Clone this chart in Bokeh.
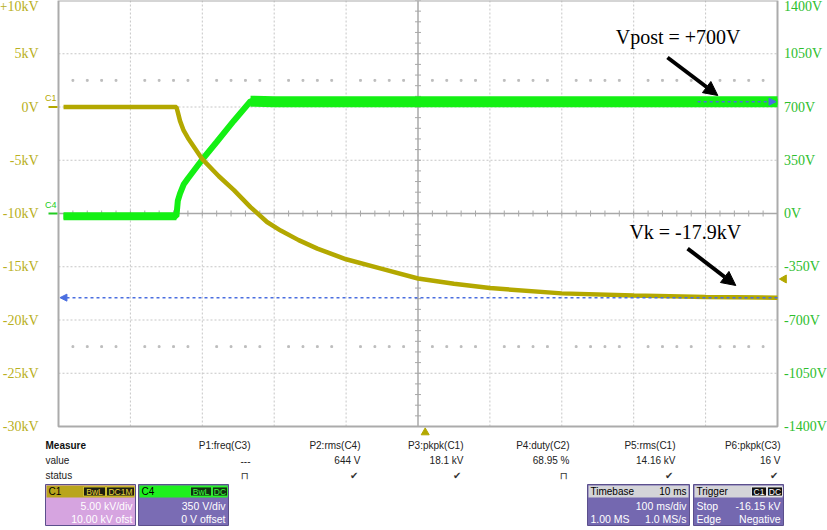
import numpy as np
from bokeh.plotting import figure
from bokeh.layouts import column
from bokeh.models import Range1d, Arrow, NormalHead
from bokeh.embed import file_html
from bokeh.resources import INLINE
from bokeh.core.properties import value

# ---------------- data ----------------
# C1: cathode voltage (kV) versus time (ms from the left edge of the screen)
c1_t_ms = [7, 164, 166, 169, 174, 180, 200, 223, 244, 267, 290, 309, 334, 360, 400,
           450, 500, 550, 600, 700, 800, 900, 1000]
c1_kv = [0, 0, -0.5, -1.3, -2.2, -2.9, -4.9, -6.5, -7.8, -9.4, -10.8, -11.6, -12.5, -13.3, -14.3,
         -15.2, -16.1, -16.6, -17.0, -17.5, -17.7, -17.85, -17.9]
# C4: post voltage (V)
c4_t_ms = [7, 164, 166, 169, 174, 180, 200, 220, 244, 267, 300, 400, 500, 600, 700, 800, 900, 1000]
c4_v = [-18, -18, 85, 131, 190, 230, 355, 470, 610, 738, 735, 735, 735, 735, 735, 735, 735, 735]
C4_FLAT_START = 9  # index where the post voltage has settled

left_ticks_kv = [-30, -25, -20, -15, -10, -5, 0, 5, 10]
left_tick_labels = ["-30kV", "-25kV", "-20kV", "-15kV", "-10kV", "-5kV", "0V", "5kV", "+10kV"]
right_ticks_v = [-1400, -1050, -700, -350, 0, 350, 700, 1050, 1400]
right_tick_labels = ["-1400V", "-1050V", "-700V", "-350V", "0V", "350V", "700V", "1050V", "1400V"]

c1_kv_per_div = 5.0
c1_offset_kv = 10.0
c4_v_per_div = 350.0
ms_per_div = 100.0
trigger_delay_ms = 10.0
trigger_level_kv = -16.15
c1_cursor_kv = -17.9
c4_cursor_v = 735.0

meas_names = ["P1:freq(C3)", "P2:rms(C4)", "P3:pkpk(C1)", "P4:duty(C2)", "P5:rms(C1)", "P6:pkpk(C3)"]
meas_values = ["---", "644 V", "18.1 kV", "68.95 %", "14.16 kV", "16 V"]
meas_status = ["\u2293", "\u2714", "\u2714", "\u2293", "\u2714", "\u2714"]

# ---------------- colours ----------------
OLIVE = "#b3a800"
OLIVE_TXT = "#b9b022"
GREEN = "#14f014"
GREEN_TXT = "#2dbe2d"
BLUE = "#4a6ee0"
GRID = "#c6c6c6"
AXIS = "#a8a8a8"

# ---------------- geometry of the scope screen (pixels) ----------------
W = 827
SCR_L, SCR_R = 58, 777          # screen left / right edge
SCR_T, SCR_B = 0, 426           # screen top / bottom edge
H1 = 436
H2 = 530 - H1
MS_PER_PX = 10 * ms_per_div / (SCR_R - SCR_L)
KV_PER_PX = 8 * c1_kv_per_div / (SCR_B - SCR_T)
center_kv = -c1_offset_kv
top_kv = center_kv + 4 * c1_kv_per_div
bottom_kv = center_kv - 4 * c1_kv_per_div
V_PER_KV = c4_v_per_div / c1_kv_per_div
t_end = 10 * ms_per_div
t_mid = t_end / 2

x0 = -SCR_L * MS_PER_PX
x1 = t_end + (W - SCR_R) * MS_PER_PX
y_top = top_kv + SCR_T * KV_PER_PX
y_bot = bottom_kv - (H1 - SCR_B) * KV_PER_PX

p = figure(width=W, height=H1, x_range=Range1d(x0, x1), y_range=Range1d(y_bot, y_top),
           x_axis_type=None, y_axis_type=None, toolbar_location=None, output_backend="svg",
           min_border=0)
p.extra_y_ranges = {"v": Range1d((y_bot - center_kv) * V_PER_KV, (y_top - center_kv) * V_PER_KV)}
p.outline_line_color = None
p.grid.visible = False
p.background_fill_color = "white"
p.border_fill_color = "white"

# graticule
x_grid = [t for t in np.arange(ms_per_div, t_end, ms_per_div) if t != t_mid]
y_grid = [k for k in left_ticks_kv if bottom_kv < k < top_kv and k != center_kv]
p.segment(x0=x_grid, x1=x_grid, y0=bottom_kv, y1=top_kv, line_color=GRID, line_width=1, line_dash="2 2")
p.segment(x0=0, x1=t_end, y0=y_grid, y1=y_grid, line_color=GRID, line_width=1, line_dash="2 2")
p.segment(x0=[t_mid, 0], x1=[t_mid, t_end], y0=[bottom_kv, center_kv], y1=[top_kv, center_kv],
          line_color=AXIS, line_width=1.5)
tx = np.arange(0, t_end + 1, ms_per_div / 5)
p.segment(x0=tx, x1=tx, y0=center_kv - 3 * KV_PER_PX, y1=center_kv + 3 * KV_PER_PX,
          line_color=AXIS, line_width=1)
ty = np.arange(bottom_kv, top_kv + 0.01, c1_kv_per_div / 5)
p.segment(x0=t_mid - 3 * MS_PER_PX, x1=t_mid + 3 * MS_PER_PX, y0=ty, y1=ty, line_color=AXIS, line_width=1)
dots_t = [t for t in tx if t % ms_per_div != 0]
for row in (center_kv + 2.5 * c1_kv_per_div, center_kv - 2.5 * c1_kv_per_div):
    p.scatter(x=dots_t, y=[row] * len(dots_t), size=1.8, marker="square", color="#bdbdbd")
p.quad(left=[0], right=[t_end], top=[top_kv], bottom=[bottom_kv], fill_color=None,
       line_color="#ababab", line_width=2)

# tick labels of both channels
lab_font = value("Liberation Serif")
lab_size = value("14px")
p.text(x=[-20 * MS_PER_PX] * (len(left_ticks_kv) - 1), y=left_ticks_kv[:-1], text=left_tick_labels[:-1],
       text_align="right", text_baseline="middle", text_font=lab_font, text_font_size=lab_size,
       text_color=OLIVE_TXT)
p.text(x=[t_end + 6.5 * MS_PER_PX] * (len(right_ticks_v) - 1), y=right_ticks_v[:-1],
       text=right_tick_labels[:-1], y_range_name="v", text_align="left", text_baseline="middle",
       text_font=lab_font, text_font_size=lab_size, text_color=GREEN_TXT)
# the top labels sit just inside the top edge of the picture
p.text(x=[-20 * MS_PER_PX], y=[top_kv - 6 * KV_PER_PX], text=[left_tick_labels[-1]], text_align="right",
       text_baseline="middle", text_font=lab_font, text_font_size=lab_size, text_color=OLIVE_TXT)
p.text(x=[t_end + 6.5 * MS_PER_PX], y=[top_kv - 6 * KV_PER_PX], text=[right_tick_labels[-1]],
       text_align="left", text_baseline="middle", text_font=lab_font, text_font_size=lab_size,
       text_color=GREEN_TXT)

# traces
p.line(c4_t_ms, c4_v, y_range_name="v", line_color=GREEN, line_width=6)
p.line(c4_t_ms[:2], c4_v[:2], y_range_name="v", line_color=GREEN, line_width=8)
p.line(c4_t_ms[C4_FLAT_START:], c4_v[C4_FLAT_START:], y_range_name="v", line_color=GREEN, line_width=11)
p.line(c1_t_ms, c1_kv, line_color=OLIVE, line_width=4.5)

# cursors
p.add_layout(Arrow(x_start=t_end, y_start=c1_cursor_kv, x_end=2, y_end=c1_cursor_kv, line_color=BLUE,
                   line_width=1.5, line_dash="3 3",
                   end=NormalHead(size=7, fill_color=BLUE, line_color=BLUE)))
p.add_layout(Arrow(x_start=889, y_start=c4_cursor_v, x_end=t_end - 2, y_end=c4_cursor_v, y_range_name="v",
                   line_color=BLUE, line_width=1.5, line_dash="3 3",
                   end=NormalHead(size=7, fill_color=BLUE, line_color=BLUE)))

# channel markers left of the screen
mark_kv = [0.0, center_kv]
mark_names = ["C1", "C4"]
mark_cols = [OLIVE, "#22cc22"]
p.segment(x0=-10 * MS_PER_PX, x1=-1 * MS_PER_PX, y0=mark_kv, y1=mark_kv, line_color=mark_cols, line_width=2)
p.text(x=-2 * MS_PER_PX, y=[k + 4 * KV_PER_PX for k in mark_kv], text=mark_names, text_align="right",
       text_baseline="bottom", text_font=value("Liberation Sans"), text_font_size=value("9px"),
       text_color=mark_cols)

# trigger markers
p.scatter(x=[t_end + 6.5 * MS_PER_PX], y=[trigger_level_kv], marker="triangle", size=8, angle=np.pi / 2,
          color=OLIVE)
p.scatter(x=[t_mid + trigger_delay_ms], y=[bottom_kv - 6 * KV_PER_PX], marker="triangle", size=8, color=OLIVE)

# annotations
ann_font = value("Liberation Serif")
p.text(x=[775, 794], y=[6.53, -11.78], text=["Vpost = +700V", "Vk = -17.9kV"], text_align="left",
       text_baseline="middle", text_font=ann_font, text_font_size=value("20px"), text_color="black")
p.add_layout(Arrow(x_start=847, y_start=4.65, x_end=917, y_end=1.08, line_color="black", line_width=4,
                   end=NormalHead(size=14, fill_color="black", line_color="black")))
p.add_layout(Arrow(x_start=875, y_start=-13.29, x_end=942, y_end=-16.76, line_color="black", line_width=4,
                   end=NormalHead(size=14, fill_color="black", line_color="black")))

# ---------------- measurement table and info boxes ----------------
q = figure(width=W, height=H2, x_range=Range1d(0, W), y_range=Range1d(H2, 0),
           x_axis_type=None, y_axis_type=None, toolbar_location=None, output_backend="svg",
           min_border=0)
q.outline_line_color = None
q.grid.visible = False
q.background_fill_color = "white"
q.border_fill_color = "white"

FONT = value("Liberation Sans")
FS = value("10px")
q.text(x=[45], y=[9], text=["Measure"], text_font=FONT, text_font_size=FS, text_font_style="bold",
       text_baseline="middle", text_color="#111111")
q.text(x=[45, 45], y=[24, 39], text=["value", "status"], text_font=FONT, text_font_size=FS,
       text_baseline="middle", text_color="#222222")
col_x = [250, 360, 463, 569, 675, 780]
q.text(x=col_x, y=[9] * 6, text=meas_names, text_font=FONT, text_font_size=FS, text_align="right",
       text_baseline="middle", text_color="#222222")
q.text(x=col_x, y=[24] * 6, text=meas_values, text_font=FONT, text_font_size=FS, text_align="right",
       text_baseline="middle", text_color="#222222")
q.text(x=[c - 2 for c in col_x], y=[39] * 6, text=meas_status, text_font=value("DejaVu Sans"),
       text_font_size=value("10px"), text_align="right", text_baseline="middle", text_color="#333333")

BOX_T, HEAD_B, BOX_B = 48, 61, 89
ROW1, ROW2 = 69.5, 82.5
BFS = value("10.5px")


def info_box(bx0, bx1, head_col, body_col, head_left, head_right, tags, rows):
    q.quad(left=[bx0], right=[bx1], top=[BOX_T], bottom=[BOX_B], fill_color=body_col,
           line_color="#5b4f8c", line_width=1)
    q.quad(left=[bx0 + 1], right=[bx1 - 1], top=[BOX_T + 1], bottom=[HEAD_B], fill_color=head_col,
           line_color=None)
    hy = (BOX_T + HEAD_B) / 2 + 0.5
    q.text(x=[bx0 + 3], y=[hy], text=[head_left], text_font=FONT, text_font_size=FS,
           text_baseline="middle", text_color="black")
    if head_right:
        q.text(x=[bx1 - 3], y=[hy], text=[head_right], text_font=FONT, text_font_size=FS,
               text_align="right", text_baseline="middle", text_color="black")
    for (tx0, tx1, txt, bg, fg) in tags:
        q.quad(left=[tx0], right=[tx1], top=[BOX_T + 2.5], bottom=[HEAD_B - 1.5], fill_color=bg,
               line_color=fg, line_width=0.8)
        q.text(x=[(tx0 + tx1) / 2], y=[hy], text=[txt], text_font=FONT, text_font_size=value("8.5px"),
               text_align="center", text_baseline="middle", text_color=fg)
    for (yy, (lt, rt)) in zip((ROW1, ROW2), rows):
        if lt:
            q.text(x=[bx0 + 3], y=[yy], text=[lt], text_font=FONT, text_font_size=BFS,
                   text_baseline="middle", text_color="white")
        if rt:
            q.text(x=[bx1 - 3], y=[yy], text=[rt], text_font=FONT, text_font_size=BFS, text_align="right",
                   text_baseline="middle", text_color="white")


info_box(45, 135, "#b9a51c", "#d6a4e0", "C1", None,
         [(83, 105, "BwL", "#1e1e10", "#e6d43a"), (106, 134, "DC1M", "#1e1e10", "#e6d43a")],
         [(None, "5.00 kV/div"), (None, "10.00 kV ofst")])
info_box(138, 228, "#1ef01e", "#7a6cb4", "C4", None,
         [(190, 211, "BwL", "#103010", "#3cff3c"), (212, 227, "DC", "#103010", "#3cff3c")],
         [(None, "350 V/div"), (None, "0 V offset")])
info_box(587, 689, "#d4d4d8", "#7468b0", "Timebase", "10 ms", [],
         [(None, "100 ms/div"), ("1.00 MS", "1.0 MS/s")])
info_box(693, 783, "#d4d4d8", "#7468b0", "Trigger", None,
         [(751, 766, "C1", "#111111", "white"), (767, 782, "DC", "#111111", "white")],
         [("Stop", "-16.15 kV"), ("Edge", "Negative")])

layout = column(p, q, spacing=0)
open("out.html", "w").write(file_html(layout, INLINE))
